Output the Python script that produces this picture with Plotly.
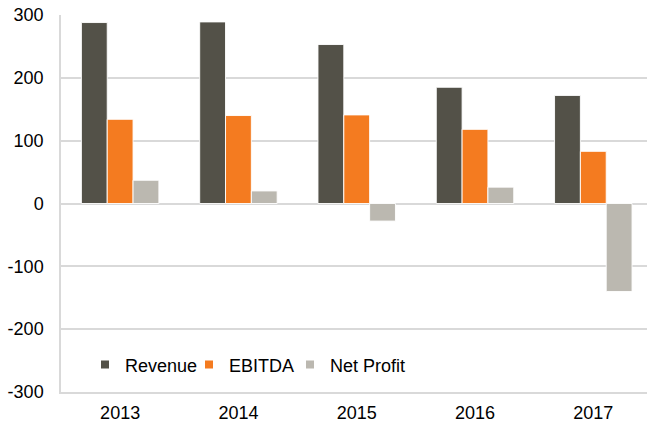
import plotly.graph_objects as go

years = ["2013", "2014", "2015", "2016", "2017"]
revenue = [288, 289, 253, 185, 172]
ebitda = [134, 140, 141, 118, 83]
net_profit = [37, 20, -28, 26, -140]

series_names = ["Revenue", "EBITDA", "Net Profit"]
series_colors = ["#535148", "#F47B20", "#BBB8B0"]
y_ticks = [-300, -200, -100, 0, 100, 200, 300]
y_tick_text = [str(v) for v in y_ticks]

legend_ids = ["legend", "legend2", "legend3"]
legend_x_px = [85, 189, 290]  # left edge of each legend box, in pixels

fig = go.Figure()
for name, vals, col, lg in zip(series_names, [revenue, ebitda, net_profit], series_colors, legend_ids):
    fig.add_trace(go.Bar(
        x=list(range(len(years))), y=vals, name=name,
        marker=dict(color=col, line=dict(color="rgba(255,255,255,0.9)", width=1)),
        showlegend=False,
    ))
    fig.add_trace(go.Scatter(
        x=[None], y=[None], mode="markers", name=name,
        marker=dict(symbol="square", size=8, color=col),
        showlegend=True, legend=lg,
    ))

plot_left, plot_w = 61, 586
legend_common = dict(orientation="h", y=0.072, xanchor="left", yanchor="middle",
                     bgcolor="rgba(0,0,0,0)", font=dict(size=18), borderwidth=0)

fig.update_layout(
    width=647, height=428,
    margin=dict(l=plot_left, r=0, t=15, b=36),
    paper_bgcolor="white", plot_bgcolor="white",
    barmode="group", bargap=0.345, bargroupgap=0,
    font=dict(family="Liberation Sans, Arial, sans-serif", size=18, color="#000000"),
    legend=dict(x=(legend_x_px[0] - plot_left) / plot_w, **legend_common),
    legend2=dict(x=(legend_x_px[1] - plot_left) / plot_w, **legend_common),
    legend3=dict(x=(legend_x_px[2] - plot_left) / plot_w, **legend_common),
    xaxis=dict(
        tickmode="array", tickvals=list(range(len(years))), ticktext=years,
        range=[-0.5, 4.454], showgrid=False, zeroline=False,
        showline=True, linecolor="#d9d9d9", linewidth=1.5,
        ticks="", ticklabelstandoff=4,
    ),
    yaxis=dict(
        range=[-300, 300], tickmode="array", tickvals=y_ticks, ticktext=y_tick_text,
        showgrid=True, gridcolor="#d9d9d9", gridwidth=1.5,
        zeroline=True, zerolinecolor="#d9d9d9", zerolinewidth=1.5,
        showline=True, linecolor="#d9d9d9", linewidth=1.5,
        ticks="", ticklabelstandoff=12,
    ),
)

fig.write_html("out.html", config={"displayModeBar": False},
               post_script="document.body.style.margin='0';document.body.style.overflow='hidden';")
